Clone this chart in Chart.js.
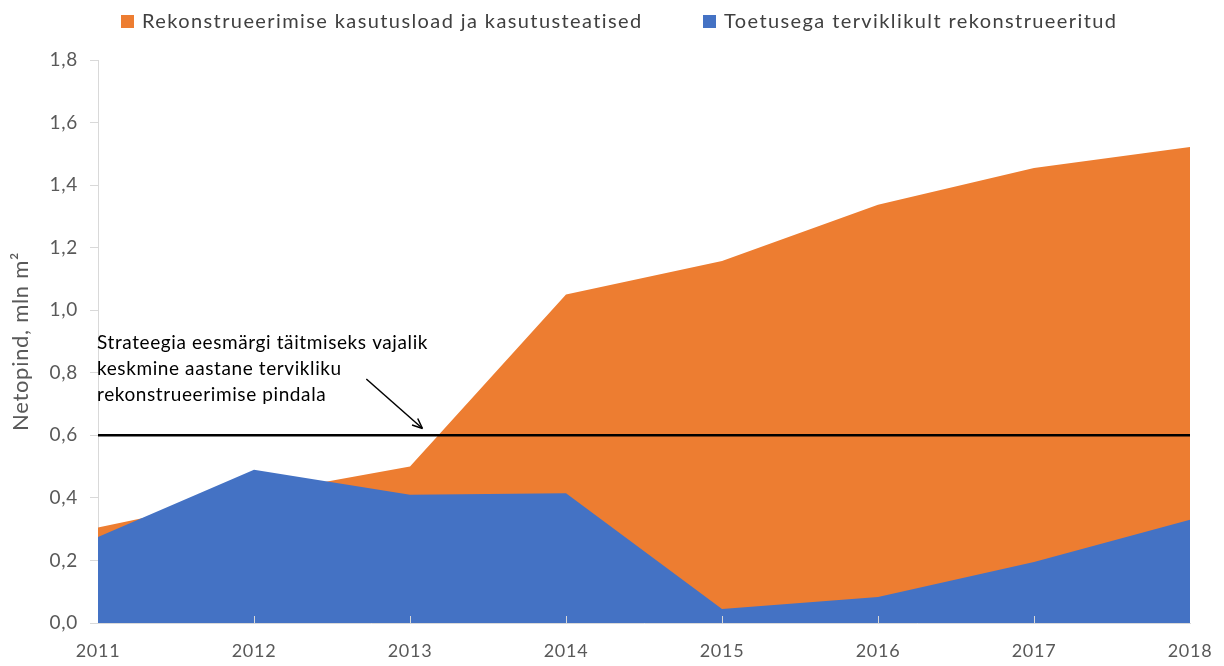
<!DOCTYPE html>
<html>
<head>
<meta charset="utf-8">
<script src="https://cdn.jsdelivr.net/npm/chart.js@4.4.0/dist/chart.umd.min.js"></script>
<style>
html,body{margin:0;padding:0;background:#fff;}
#wrap{width:1224px;height:666px;position:relative;}
</style>
</head>
<body>
<div id="wrap"><canvas id="c" width="1224" height="666"></canvas></div>
<script>
const years = ['2011','2012','2013','2014','2015','2016','2017','2018'];
const permits = [0.305, 0.41, 0.50, 1.05, 1.157, 1.337, 1.455, 1.522];
const supported = [0.275, 0.49, 0.41, 0.415, 0.045, 0.083, 0.195, 0.33];
const target = [0.6, 0.6, 0.6, 0.6, 0.6, 0.6, 0.6, 0.6];
const seriesNames = ['Rekonstrueerimise kasutusload ja kasutusteatised', 'Toetusega terviklikult rekonstrueeritud'];
const targetNote = ['Strateegia eesmärgi täitmiseks vajalik', 'keskmine aastane tervikliku', 'rekonstrueerimise pindala'];
const yTitle = 'Netopind, mln m²';

const ORANGE = '#ED7D31', BLUE = '#4472C4';
const FONT = 'Lato, "Open Sans", sans-serif';

const spacingPlugin = {
  id: 'spacing',
  beforeUpdate(chart) { chart.ctx.letterSpacing = '0.7px'; },
  beforeLayout(chart) { chart.ctx.letterSpacing = '0.7px'; },
  beforeDraw(chart) { chart.ctx.letterSpacing = '0.7px'; }
};

const legendPlugin = {
  id: 'customLegend',
  afterDraw(chart) {
    const ctx = chart.ctx;
    ctx.save();
    ctx.font = '20px ' + FONT;
    ctx.letterSpacing = '1.4px';
    ctx.textBaseline = 'middle';
    const items = [{x:121, c:ORANGE, t:seriesNames[0]}, {x:703, c:BLUE, t:seriesNames[1]}];
    items.forEach(it => {
      ctx.fillStyle = it.c;
      ctx.fillRect(it.x, 15, 13, 13);
      ctx.fillStyle = '#404040';
      ctx.fillText(it.t, it.x + 21, 21.5);
    });
    ctx.restore();
  }
};

const notePlugin = {
  id: 'note',
  afterDatasetsDraw(chart) {
    const ctx = chart.ctx, xs = chart.scales.x, ys = chart.scales.y;
    ctx.save();
    ctx.strokeStyle = '#d9d9d9';
    ctx.lineWidth = 1;
    const yb = ys.getPixelForValue(0);
    for (let i = 1; i < years.length - 1; i++) {
      const px = Math.round(xs.getPixelForValue(i)) + 0.5;
      ctx.beginPath(); ctx.moveTo(px, yb); ctx.lineTo(px, yb - 7); ctx.stroke();
    }
    ctx.font = '19px ' + FONT;
    ctx.letterSpacing = '0.6px';
    ctx.fillStyle = '#000';
    ctx.textBaseline = 'alphabetic';
    const x0 = xs.getPixelForValue(0) - 1;
    const y0 = ys.getPixelForValue(0.875);
    targetNote.forEach((t, i) => ctx.fillText(t, x0, y0 + i * 26));
    const ax1 = xs.getPixelForValue(1.72), ay1 = ys.getPixelForValue(0.78);
    const ax2 = xs.getPixelForValue(2.08), ay2 = ys.getPixelForValue(0.622);
    ctx.strokeStyle = '#000';
    ctx.lineWidth = 1.5;
    ctx.beginPath(); ctx.moveTo(ax1, ay1); ctx.lineTo(ax2, ay2); ctx.stroke();
    const ang = Math.atan2(ay2 - ay1, ax2 - ax1);
    const L = 11;
    ctx.beginPath();
    ctx.moveTo(ax2, ay2);
    ctx.lineTo(ax2 - L * Math.cos(ang - 0.4), ay2 - L * Math.sin(ang - 0.4));
    ctx.moveTo(ax2, ay2);
    ctx.lineTo(ax2 - L * Math.cos(ang + 0.4), ay2 - L * Math.sin(ang + 0.4));
    ctx.stroke();
    ctx.restore();
  }
};

new Chart(document.getElementById('c'), {
  type: 'line',
  data: {
    labels: years,
    datasets: [
      {label: seriesNames[0], data: permits, backgroundColor: ORANGE, borderColor: ORANGE, borderWidth: 0, fill: 'origin', pointRadius: 0, tension: 0, order: 3},
      {label: seriesNames[1], data: supported, backgroundColor: BLUE, borderColor: BLUE, borderWidth: 0, fill: 'origin', pointRadius: 0, tension: 0, order: 2},
      {label: 'target', data: target, borderColor: '#000', borderWidth: 2.5, fill: false, pointRadius: 0, tension: 0, order: 1}
    ]
  },
  options: {
    responsive: false,
    animation: false,
    layout: {padding: {top: 60, right: 34, left: 0, bottom: 0}},
    plugins: {legend: {display: false}, tooltip: {enabled: false}},
    scales: {
      x: {
        offset: false,
        afterFit(s) { s.height = 43; s.paddingRight = 0; s.paddingLeft = 0; },
        grid: {display: false, drawTicks: false},
        border: {display: true, color: '#d9d9d9'},
        ticks: {color: '#595959', font: {size: 18, family: FONT}, padding: 17, maxRotation: 0, autoSkip: false}
      },
      y: {
        min: 0, max: 1.8,
        afterFit(s) { s.width = 98; },
        grid: {drawOnChartArea: false, drawTicks: true, tickLength: 8, color: '#d9d9d9'},
        border: {display: true, color: '#d9d9d9'},
        ticks: {stepSize: 0.2, color: '#595959', font: {size: 19, family: FONT}, padding: 12,
          callback: v => v.toFixed(1).replace('.', ',')},
        title: {display: true, text: yTitle, color: '#595959', font: {size: 22, family: FONT}, padding: {top: 8, bottom: 0}}
      }
    }
  },
  plugins: [spacingPlugin, legendPlugin, notePlugin]
});
</script>
</body>
</html>
